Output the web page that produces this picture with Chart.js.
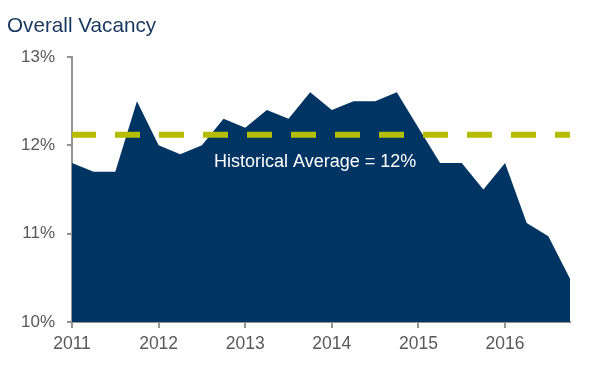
<!DOCTYPE html>
<html>
<head>
<meta charset="utf-8">
<script src="https://cdn.jsdelivr.net/npm/chart.js@4"></script>
<style>
    html, body { margin: 0; padding: 0; background: #fff; }
    #wrap { width: 607px; height: 378px; position: relative; }
</style>
</head>
<body>
<div id="wrap"><canvas id="vacancy-chart"></canvas></div>
<script>
// Quarters from 2011 Q1 to 2016 Q4, year ticks fall on Q1
const quarters = [
    2011, 2011.25, 2011.5, 2011.75,
    2012, 2012.25, 2012.5, 2012.75,
    2013, 2013.25, 2013.5, 2013.75,
    2014, 2014.25, 2014.5, 2014.75,
    2015, 2015.25, 2015.5, 2015.75,
    2016, 2016.25, 2016.5, 2016.75
];
// Overall vacancy, percent
const vacancy = [
    11.8, 11.7, 11.7, 12.5,
    12.0, 11.9, 12.0, 12.3,
    12.2, 12.4, 12.3, 12.6,
    12.4, 12.5, 12.5, 12.6,
    12.2, 11.8, 11.8, 11.5,
    11.8, 11.12, 10.97, 10.49
];
const historicalAverage = 12.12;
const yTicks = [10, 11, 12, 13];

const fontFamily = "'Liberation Sans', Arial, sans-serif";

// Title and the "Historical Average" note
const textPlugin = {
    id: 'textPlugin',
    afterDatasetsDraw(chart) {
        const ctx = chart.ctx;
        const x = chart.scales.x;
        const y = chart.scales.y;
        ctx.save();
        ctx.textBaseline = 'middle';
        ctx.textAlign = 'left';
        ctx.fillStyle = '#17375e';
        ctx.font = '20.7px ' + fontFamily;
        ctx.fillText('Overall Vacancy', 7, 26);

        ctx.fillStyle = '#ffffff';
        ctx.font = '18px ' + fontFamily;
        ctx.fillText('Historical Average = 12%', x.getPixelForValue(2012.64), y.getPixelForValue(11.81));
        ctx.restore();
    }
};

let ctx = document.getElementById('vacancy-chart').getContext('2d');

new Chart(ctx, {
    type: 'line',
    data: {
        datasets: [
            {
                label: 'Overall Vacancy',
                data: quarters.map((q, i) => ({ x: q, y: vacancy[i] })),
                fill: 'start',
                backgroundColor: '#003463',
                borderColor: '#003463',
                borderWidth: 0,
                pointRadius: 0,
                tension: 0,
                order: 2
            },
            {
                label: 'Historical Average',
                data: quarters.map(q => ({ x: q, y: historicalAverage })),
                fill: false,
                borderColor: '#b5bd00',
                borderWidth: 6,
                borderDash: [25, 19],
                borderDashOffset: 1,
                borderCapStyle: 'butt',
                pointRadius: 0,
                order: 1
            }
        ]
    },
    options: {
        responsive: true,
        maintainAspectRatio: false,
        animation: false,
        layout: {
            padding: { top: 57, right: 37, left: 0, bottom: 0 }
        },
        plugins: {
            legend: { display: false },
            tooltip: { enabled: false }
        },
        scales: {
            x: {
                type: 'linear',
                min: quarters[0],
                max: quarters[quarters.length - 1],
                afterFit(scale) { scale.height = 56; },
                border: { color: '#939393', width: 2 },
                grid: {
                    drawOnChartArea: false,
                    drawTicks: true,
                    tickLength: 6,
                    color: '#939393',
                    lineWidth: 2
                },
                ticks: {
                    stepSize: 1,
                    includeBounds: false,
                    color: '#595959',
                    font: { family: fontFamily, size: 17.5 },
                    padding: 6,
                    maxRotation: 0,
                    callback: (v) => String(v)
                }
            },
            y: {
                min: yTicks[0],
                max: yTicks[yTicks.length - 1],
                afterFit(scale) { scale.width = 72; },
                afterBuildTicks(scale) { scale.ticks = yTicks.map(v => ({ value: v })); },
                border: { color: '#939393', width: 2 },
                grid: {
                    drawOnChartArea: false,
                    drawTicks: true,
                    tickLength: 5,
                    color: '#939393',
                    lineWidth: 2
                },
                ticks: {
                    color: '#595959',
                    font: { family: fontFamily, size: 17 },
                    padding: 12,
                    callback: (v) => v + '%'
                }
            }
        }
    },
    plugins: [textPlugin]
});
</script>
</body>
</html>
